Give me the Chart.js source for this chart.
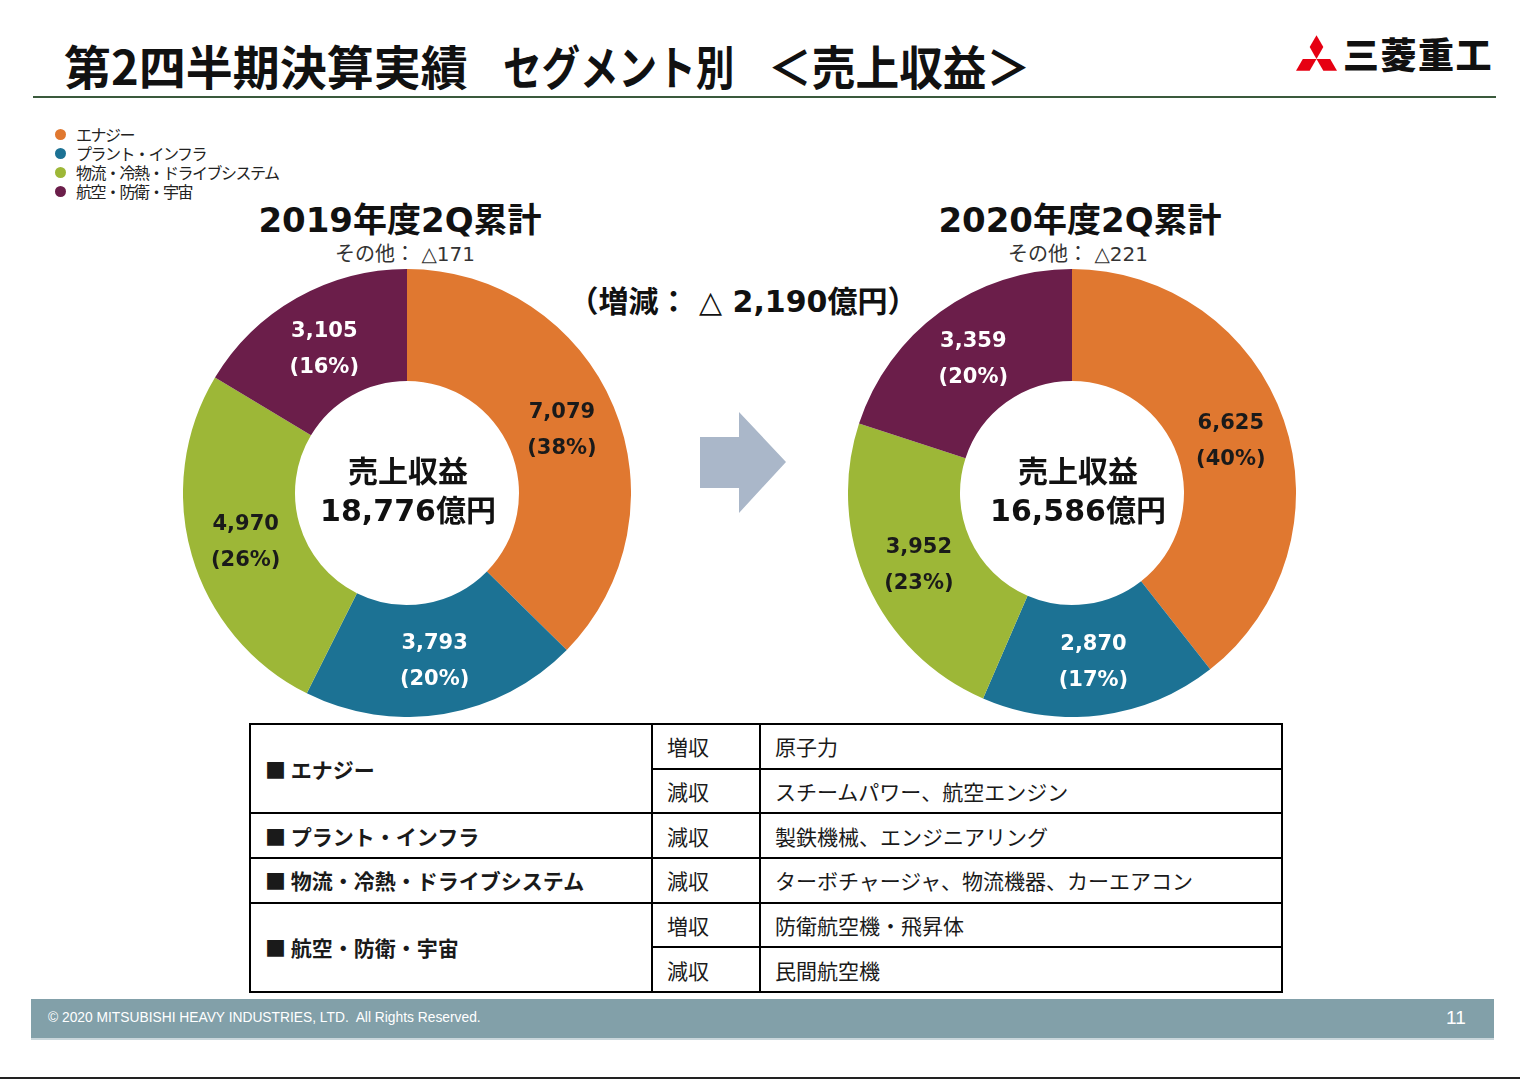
<!DOCTYPE html>
<html lang="ja">
<head>
<meta charset="utf-8">
<title>第2四半期決算実績 セグメント別 売上収益</title>
<script src="https://cdn.jsdelivr.net/npm/chart.js@4/dist/chart.umd.min.js"></script>
<style>
  html, body { margin: 0; padding: 0; background: #fff; }
  #page { position: relative; width: 1520px; height: 1080px; overflow: hidden;
    font-family: "DejaVu Sans", "Noto Sans CJK JP", sans-serif; color: #111; }
  .abs { position: absolute; white-space: nowrap; }
  .mid { transform: translateX(-50%); text-align: center; }
  .jp { font-family: "Noto Sans CJK JP", sans-serif; }
  .ttl { top: 36px; font-size: 47px; font-weight: 700; line-height: 58px; transform-origin: left center; }
  #rule { left: 33px; top: 96px; width: 1463px; height: 2px; background: #3a5a3c; }
  #logoText { left: 1343px; top: 30px; font-size: 36px; font-weight: 900; line-height: 46px; letter-spacing: 1.5px; }
  #legend { left: 55px; top: 125px; font-size: 16px; line-height: 19px; letter-spacing: -1.5px; color: #222; }
  #legend .row { display: flex; align-items: center; }
  #legend .dot { width: 11px; height: 11px; border-radius: 50%; margin-right: 10px; flex: none; }
  .yearTitle { top: 199px; font-size: 34px; font-weight: 700; line-height: 42px; }
  .other { top: 240px; font-size: 20px; line-height: 26px; color: #333; }
  #diff { left: 743px; top: 280px; font-size: 30px; font-weight: 700; line-height: 38px; }
  .box { position: absolute; width: 448px; height: 448px; top: 269px; }
  .center { top: 451px; font-size: 30px; font-weight: 700; line-height: 36px; }
  #arrow { left: 700px; top: 412px; }
  #tbl { position: absolute; left: 249px; top: 723px; border-collapse: collapse;
    font-family: "Noto Sans CJK JP", sans-serif; font-size: 21px; color: #1a1a1a; }
  #tbl td { border: 2px solid #000; height: 42.7px; padding: 0 0 0 14px; line-height: 24px; }
  #tbl td.cat { font-weight: 700; width: 386px; }
  #tbl td.kind { width: 92px; }
  #tbl td.item { width: 506px; }
  #footer { left: 31px; top: 999px; width: 1463px; height: 39px; background: #82a0a9;
    border-bottom: 2px solid #c9d6db; }
  #copy { left: 48px; top: 1010px; font-family: "Liberation Sans", Arial, sans-serif; font-size: 13.8px;
    line-height: 16px; color: #fff; }
  #pageNo { left: 1446px; top: 1007px; font-family: "Liberation Sans", Arial, sans-serif; font-size: 19px;
    line-height: 22px; color: #fff; }
  #bottomLine { left: 0; top: 1077px; width: 1520px; height: 2px; background: #222; }
</style>
</head>
<body>
<div id="page">
  <div class="abs jp ttl" style="left:64px">第2四半期決算実績</div>
  <div class="abs jp ttl" style="left:503px;transform:scaleX(0.82)">セグメント別</div>
  <div class="abs jp ttl" style="left:768px;transform:scaleX(0.93)">＜売上収益＞</div>
  <div id="rule" class="abs"></div>

  <svg class="abs" style="left:1296px;top:35px" width="41" height="36" viewBox="3.7 0 34.6 30">
    <polygon fill="#e60012" points="21,0 26.77,10 21,20 15.23,10"/>
    <polygon fill="#e60012" points="21,20 32.55,20 38.32,30 26.77,30"/>
    <polygon fill="#e60012" points="21,20 9.45,20 3.68,30 15.23,30"/>
  </svg>
  <div id="logoText" class="abs jp">三菱重工</div>

  <div id="legend" class="abs jp"></div>

  <div class="abs mid yearTitle" style="left:400px">2019年度2Q累計</div>
  <div class="abs mid other" id="other2019" style="left:405px"></div>
  <div class="abs mid yearTitle" style="left:1080px">2020年度2Q累計</div>
  <div class="abs mid other" id="other2020" style="left:1078px"></div>

  <div id="diff" class="abs mid"></div>

  <div class="box" style="left:183px"><canvas id="chart2019"></canvas></div>
  <div class="box" style="left:848px"><canvas id="chart2020"></canvas></div>

  <div class="abs mid center" id="center2019" style="left:408px"></div>
  <div class="abs mid center" id="center2020" style="left:1078px"></div>

  <svg id="arrow" class="abs" width="86" height="101" viewBox="0 0 86 101">
    <polygon fill="#aab7c9" points="0,25 39,25 39,0 86,50 39,101 39,76 0,76"/>
  </svg>

  <table id="tbl"><tbody id="tblBody"></tbody></table>

  <div id="footer" class="abs"></div>
  <div id="copy" class="abs">© 2020 MITSUBISHI HEAVY INDUSTRIES, LTD.&nbsp; All Rights Reserved.</div>
  <div id="pageNo" class="abs">11</div>
  <div id="bottomLine" class="abs"></div>
</div>

<script>
// セグメント
const segments = ["エナジー", "プラント・インフラ", "物流・冷熱・ドライブシステム", "航空・防衛・宇宙"];
const segColors = ["#e07830", "#1c7294", "#9db737", "#6b1e4a"];
const labelColors = ["#1a1a1a", "#ffffff", "#1a1a1a", "#ffffff"];

// 2019年度2Q累計 (億円)
const sales2019 = [7079, 3793, 4970, 3105];
const share2019 = [38, 20, 26, 16];
const total2019 = 18776;
const other2019 = -171;

// 2020年度2Q累計 (億円)
const sales2020 = [6625, 2870, 3952, 3359];
const share2020 = [40, 17, 23, 20];
const total2020 = 16586;
const other2020 = -221;

const totalDiff = -2190;

// 増減要因の表
const tableCats = ["エナジー", "エナジー", "プラント・インフラ", "物流・冷熱・ドライブシステム", "航空・防衛・宇宙", "航空・防衛・宇宙"];
const tableKinds = ["増収", "減収", "減収", "減収", "増収", "減収"];
const tableItems = ["原子力", "スチームパワー、航空エンジン", "製鉄機械、エンジニアリング",
  "ターボチャージャ、物流機器、カーエアコン", "防衛航空機・飛昇体", "民間航空機"];

function fmt(n) {
  return n < 0 ? "△" + Math.abs(n).toLocaleString("en-US") : n.toLocaleString("en-US");
}

// legend
const legend = document.getElementById("legend");
segments.forEach((s, i) => {
  const row = document.createElement("div");
  row.className = "row";
  row.innerHTML = '<span class="dot" style="background:' + segColors[i] + '"></span><span>' + s + '</span>';
  legend.appendChild(row);
});

document.getElementById("other2019").innerHTML = '<span class="jp">その他：</span> ' + fmt(other2019);
document.getElementById("other2020").innerHTML = '<span class="jp">その他：</span> ' + fmt(other2020);
document.getElementById("diff").innerHTML = '<span class="jp">（増減：</span>&nbsp;△ ' +
  Math.abs(totalDiff).toLocaleString("en-US") + '<span class="jp">億円）</span>';
document.getElementById("center2019").innerHTML = '<span class="jp">売上収益</span><br>' + fmt(total2019) + '<span class="jp">億円</span>';
document.getElementById("center2020").innerHTML = '<span class="jp">売上収益</span><br>' + fmt(total2020) + '<span class="jp">億円</span>';

// table (rowspan for repeated categories)
const tbody = document.getElementById("tblBody");
tableCats.forEach((c, i) => {
  const tr = document.createElement("tr");
  if (i === 0 || tableCats[i - 1] !== c) {
    let span = 1;
    while (tableCats[i + span] === c) span++;
    const td = document.createElement("td");
    td.className = "cat";
    td.rowSpan = span;
    td.textContent = "■ " + c;
    tr.appendChild(td);
  }
  const k = document.createElement("td");
  k.className = "kind";
  k.textContent = tableKinds[i];
  tr.appendChild(k);
  const it = document.createElement("td");
  it.className = "item";
  it.textContent = tableItems[i];
  tr.appendChild(it);
  tbody.appendChild(tr);
});

// value + share labels on each slice
const sliceLabels = {
  id: "sliceLabels",
  afterDatasetsDraw(chart) {
    const ctx = chart.ctx;
    const shares = chart.options.plugins.sliceLabels.shares;
    const meta = chart.getDatasetMeta(0);
    ctx.save();
    ctx.font = "bold 21px 'DejaVu Sans'";
    ctx.textAlign = "center";
    ctx.textBaseline = "middle";
    meta.data.forEach((arc, i) => {
      const p = arc.tooltipPosition();
      ctx.fillStyle = labelColors[i];
      ctx.fillText(fmt(chart.data.datasets[0].data[i]), p.x, p.y - 15);
      ctx.fillText("(" + shares[i] + "%)", p.x, p.y + 21);
    });
    ctx.restore();
  }
};

function makeChart(id, values, shares) {
  return new Chart(document.getElementById(id), {
    type: "doughnut",
    data: {
      labels: segments,
      datasets: [{
        data: values,
        backgroundColor: segColors,
        borderWidth: 0
      }]
    },
    options: {
      responsive: true,
      maintainAspectRatio: false,
      animation: false,
      cutout: "50%",
      layout: { padding: 0 },
      plugins: {
        legend: { display: false },
        tooltip: { enabled: false },
        sliceLabels: { shares: shares }
      }
    },
    plugins: [sliceLabels]
  });
}

makeChart("chart2019", sales2019, share2019);
makeChart("chart2020", sales2020, share2020);
</script>
</body>
</html>
